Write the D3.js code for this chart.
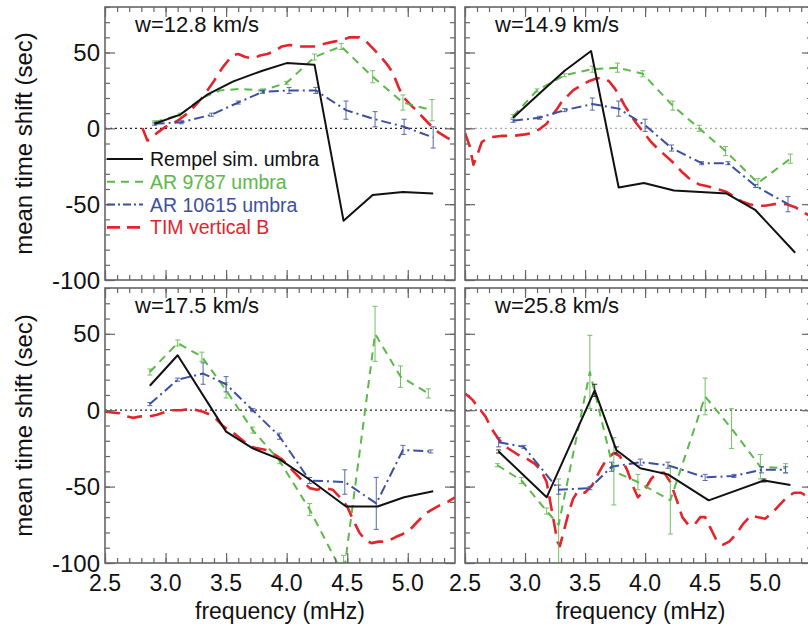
<!DOCTYPE html>
<html>
<head>
<meta charset="utf-8">
<script src="https://cdn.jsdelivr.net/npm/d3@7"></script>
<style>
  body { margin: 0; background: #fff; }
  text { font-family: "Liberation Sans", Arial, Helvetica, sans-serif; }
</style>
</head>
<body>
<div id="chart"></div>
<script>
// panel labels
var panelLabels = ["w=12.8 km/s", "w=14.9 km/s", "w=17.5 km/s", "w=25.8 km/s"];
var seriesNames = ["Rempel sim. umbra", "AR 9787 umbra", "AR 10615 umbra", "TIM vertical B"];
var xTicks = [2.5, 3.0, 3.5, 4.0, 4.5, 5.0];
var yTicks = [-100, -50, 0, 50];

// ---- panel A: w=12.8
var rempelA_f = [2.91, 3.12, 3.34, 3.56, 3.8, 4.0, 4.23, 4.47, 4.71, 4.96, 5.21];
var rempelA_v = [3, 9, 22, 31, 38, 43, 42, -61, -44, -42, -43];
var ar9787A_f = [2.91, 3.12, 3.3, 3.45, 3.62, 3.8, 4.0, 4.23, 4.45, 4.71, 4.96, 5.2];
var ar9787A_v = [4, 9, 20, 25, 26, 25, 30, 47, 54, 34, 17, 12];
var ar9787A_e = [1, 1, 0, 0, 0, 1, 1, 2, 2, 4, 5, 7];
var ar10615A_f = [2.91, 3.13, 3.38, 3.6, 3.8, 4.02, 4.24, 4.49, 4.73, 4.97, 5.21];
var ar10615A_v = [3, 4, 9, 17, 24, 25, 25, 12, 6, 1, -6];
var ar10615A_e = [1, 1, 1, 1, 1, 2, 2, 6, 5, 5, 7];
var timA_f = [2.81, 2.85, 2.88, 2.93, 3.0, 3.1, 3.2, 3.3, 3.39, 3.47, 3.55, 3.6, 3.66, 3.72, 3.78, 3.84, 3.9, 3.96, 4.02, 4.1, 4.18, 4.25, 4.32, 4.38, 4.45, 4.52, 4.6, 4.66, 4.72, 4.78, 4.84, 4.88, 4.93, 4.97, 5.03, 5.08, 5.14, 5.2, 5.26, 5.32, 5.39];
var timA_v = [0, -8, -7, -3, 1, 5, 11, 20, 30, 40, 48, 49, 47, 46, 48, 49, 51, 54, 55, 54, 54, 54, 56, 57, 58, 60, 60, 57, 52, 47, 41, 36, 26, 20, 15, 11, 6, 1, -3, -6, -9];

// ---- panel B: w=14.9
var rempelB_f = [2.9, 3.12, 3.33, 3.55, 3.78, 3.99, 4.24, 4.46, 4.68, 4.92, 5.25];
var rempelB_v = [7, 23, 38, 51, -39, -36, -41, -42, -43, -54, -82];
var ar9787B_f = [2.9, 3.1, 3.33, 3.56, 3.77, 3.98, 4.23, 4.45, 4.67, 4.94, 5.21];
var ar9787B_v = [8, 25, 35, 39, 40, 36, 15, 0, -15, -36, -20];
var ar9787B_e = [1, 1, 1, 2, 3, 2, 3, 2, 3, 3, 3];
var ar10615B_f = [2.9, 3.12, 3.33, 3.56, 3.78, 4.0, 4.22, 4.47, 4.69, 4.92, 5.19];
var ar10615B_v = [5, 7, 12, 16, 13, 2, -13, -23, -23, -38, -50];
var ar10615B_e = [1, 1, 1, 4, 5, 4, 2, 1, 1, 1, 5];
var timB_f = [2.5, 2.54, 2.57, 2.6, 2.64, 2.7, 2.8, 2.9, 3.0, 3.07, 3.13, 3.18, 3.22, 3.26, 3.31, 3.35, 3.4, 3.46, 3.53, 3.6, 3.66, 3.7, 3.75, 3.79, 3.83, 3.87, 3.93, 3.99, 4.05, 4.1, 4.17, 4.24, 4.31, 4.38, 4.45, 4.51, 4.6, 4.68, 4.74, 4.8, 4.87, 4.93, 5.0, 5.07, 5.13, 5.18, 5.25, 5.31, 5.38];
var timB_v = [-3, -12, -24, -18, -9, -6, -5, -5, -4, -3, 0, 3, 8, 12, 18, 21, 25, 28, 31, 33, 33, 31, 26, 21, 15, 10, 3, -3, -9, -13, -18, -23, -29, -34, -37, -38, -40, -42, -45, -48, -50, -51, -51, -50, -50, -50, -52, -55, -58];

// ---- panel C: w=17.5
var rempelC_f = [2.87, 3.1, 3.5, 3.72, 3.94, 4.2, 4.49, 4.75, 4.97, 5.21];
var rempelC_v = [16, 36, -14, -25, -32, -46, -63, -63, -57, -53];
var ar9787C_f = [2.87, 3.1, 3.3, 3.5, 3.72, 3.94, 4.19, 4.47, 4.73, 4.94, 5.17];
var ar9787C_v = [25, 44, 35, 13, -13, -33, -65, -108, 50, 22, 11];
var ar9787C_e = [2, 2, 3, 5, 2, 2, 4, 13, 18, 7, 3];
var ar10615C_f = [2.87, 3.1, 3.31, 3.5, 3.72, 3.94, 4.19, 4.48, 4.74, 4.96, 5.19];
var ar10615C_v = [4, 20, 24, 17, 0, -17, -46, -47, -61, -26, -27];
var ar10615C_e = [1, 1, 7, 5, 1, 2, 2, 8, 17, 3, 1];
var timC_f = [2.5, 2.56, 2.62, 2.68, 2.73, 2.8, 2.87, 2.93, 3.0, 3.06, 3.13, 3.2, 3.26, 3.31, 3.37, 3.42, 3.47, 3.52, 3.58, 3.64, 3.7, 3.77, 3.83, 3.9, 3.96, 4.02, 4.08, 4.14, 4.19, 4.25, 4.32, 4.38, 4.44, 4.5, 4.55, 4.6, 4.65, 4.7, 4.76, 4.83, 4.9, 4.96, 5.02, 5.08, 5.14, 5.2, 5.27, 5.33, 5.39];
var timC_v = [-1, -1.5, -2, -4, -5, -4, -4, -3, -1, 0, 0, 1, 0, -1, -3, -6, -10, -13, -16, -20, -24, -25, -26, -29, -32, -37, -42, -47, -51, -52, -51, -52, -57, -63, -72, -80, -85, -87, -86, -86, -83, -81, -78, -73, -68, -65, -62, -60, -57];

// ---- panel D: w=25.8
var rempelD_f = [2.78, 3.18, 3.58, 3.76, 3.96, 4.19, 4.53, 4.99, 5.21];
var rempelD_v = [-27, -57, 13, -26, -38, -42, -59, -46, -49];
var rempelD_e = [1, 0, 4, 2, 0, 0, 0, 1, 0];
var ar9787D_f = [2.77, 2.97, 3.18, 3.28, 3.54, 3.74, 3.94, 4.21, 4.5, 4.72, 4.96, 5.17];
var ar9787D_v = [-36, -46, -66, -75, 25, -40, -47, -59, 9, -12, -37, -38];
var ar9787D_e = [1, 2, 2, 30, 24, 22, 5, 22, 12, 13, 8, 3];
var ar10615D_f = [2.78, 2.99, 3.28, 3.54, 3.72, 3.96, 4.19, 4.5, 4.74, 4.97, 5.17];
var ar10615D_v = [-21, -24, -52, -51, -37, -34, -36, -44, -43, -39, -39];
var ar10615D_e = [3, 1, 3, 1, 3, 2, 2, 2, 1, 2, 2];
var timD_f = [2.5, 2.56, 2.62, 2.67, 2.72, 2.78, 2.84, 2.9, 2.96, 3.02, 3.08, 3.13, 3.18, 3.21, 3.24, 3.27, 3.29, 3.32, 3.36, 3.4, 3.44, 3.5, 3.56, 3.62, 3.68, 3.74, 3.79, 3.85, 3.9, 3.94, 3.99, 4.05, 4.1, 4.16, 4.21, 4.26, 4.31, 4.36, 4.41, 4.46, 4.5, 4.55, 4.6, 4.65, 4.7, 4.76, 4.82, 4.88, 4.94, 5.0, 5.06, 5.12, 5.18, 5.24, 5.3, 5.36];
var timD_v = [11, 7, 1, -4, -12, -19, -24, -27, -30, -32, -35, -39, -47, -60, -73, -86, -89, -80, -68, -58, -53, -54, -49, -40, -32, -28, -30, -39, -50, -57, -53, -45, -41, -41, -47, -58, -70, -75, -75, -70, -70, -78, -86, -88, -86, -81, -74, -69, -70, -71, -67, -62, -57, -54, -54, -57];

var colors = ["#111111", "#5cb848", "#3c4fa0", "#e5232b"];
var dashes = [null, "8,6", "10,4,2,4", "15,8"];
var widths = [2, 2, 2, 2.6];

function pts(f, v, e) {
  return f.map(function(d, i) { return { f: d, v: v[i], e: e ? e[i] : 0 }; });
}

var panels = [
  { x: 105, y: 7, w: 350, h: 273, label: panelLabels[0], left: true, bottom: false, zero: "#222",
    series: [pts(rempelA_f, rempelA_v), pts(ar9787A_f, ar9787A_v, ar9787A_e), pts(ar10615A_f, ar10615A_v, ar10615A_e), pts(timA_f, timA_v)] },
  { x: 465, y: 7, w: 347, h: 273, label: panelLabels[1], left: false, bottom: false, zero: "#aaa",
    series: [pts(rempelB_f, rempelB_v), pts(ar9787B_f, ar9787B_v, ar9787B_e), pts(ar10615B_f, ar10615B_v, ar10615B_e), pts(timB_f, timB_v)] },
  { x: 105, y: 288, w: 350, h: 275, label: panelLabels[2], left: true, bottom: true, zero: "#222",
    series: [pts(rempelC_f, rempelC_v), pts(ar9787C_f, ar9787C_v, ar9787C_e), pts(ar10615C_f, ar10615C_v, ar10615C_e), pts(timC_f, timC_v)] },
  { x: 465, y: 288, w: 347, h: 275, label: panelLabels[3], left: false, bottom: true, zero: "#333",
    series: [pts(rempelD_f, rempelD_v, rempelD_e), pts(ar9787D_f, ar9787D_v, ar9787D_e), pts(ar10615D_f, ar10615D_v, ar10615D_e), pts(timD_f, timD_v)] }
];

var svg = d3.select("#chart").append("svg")
  .attr("width", 808)
  .attr("height", 630);

var defs = svg.append("defs");

panels.forEach(function(p, pi) {
  var x = d3.scaleLinear().domain([2.5, 5.39]).range([0, p.w]);
  var y = d3.scaleLinear().domain([-100, 80]).range([p.h, 0]);

  var g = svg.append("g").attr("transform", `translate(${p.x}, ${p.y})`);

  defs.append("clipPath").attr("id", "clip" + pi)
    .append("rect").attr("width", p.w).attr("height", p.h);

  // zero line
  g.append("line")
    .attr("x1", 0).attr("x2", p.w)
    .attr("y1", y(0)).attr("y2", y(0))
    .attr("stroke", p.zero).attr("stroke-width", 1.3)
    .attr("stroke-dasharray", "2,3");

  var plot = g.append("g").attr("clip-path", `url(#clip${pi})`);
  var line = d3.line().x(d => x(d.f)).y(d => y(d.v));

  // draw TIM first so the others sit on top
  [3, 1, 2, 0].forEach(function(si) {
    var data = p.series[si];
    plot.append("path")
      .datum(data)
      .attr("d", line)
      .attr("fill", "none")
      .attr("stroke", colors[si])
      .attr("stroke-width", widths[si])
      .attr("stroke-dasharray", dashes[si])
      .attr("stroke-linejoin", "round");

    // error bars
    var eb = plot.selectAll(null).data(data.filter(d => d.e > 0)).enter()
      .append("g").attr("stroke", colors[si]).attr("stroke-width", 1).attr("opacity", 0.85);
    eb.append("line")
      .attr("x1", d => x(d.f)).attr("x2", d => x(d.f))
      .attr("y1", d => y(d.v - d.e)).attr("y2", d => y(d.v + d.e));
    eb.append("line")
      .attr("x1", d => x(d.f) - 2.5).attr("x2", d => x(d.f) + 2.5)
      .attr("y1", d => y(d.v - d.e)).attr("y2", d => y(d.v - d.e));
    eb.append("line")
      .attr("x1", d => x(d.f) - 2.5).attr("x2", d => x(d.f) + 2.5)
      .attr("y1", d => y(d.v + d.e)).attr("y2", d => y(d.v + d.e));
  });

  // axes: ticks on all four sides, pointing inward
  var xMinor = d3.range(25, 54).map(d => d / 10);
  var yMinor = d3.range(-100, 81, 10);

  var axColor = "#666";
  g.append("g").attr("transform", `translate(0, ${p.h})`)
    .call(d3.axisTop(x).tickValues(xMinor).tickSize(5).tickFormat(""));
  g.append("g").call(d3.axisBottom(x).tickValues(xMinor).tickSize(5).tickFormat(""));
  g.append("g").call(d3.axisRight(y).tickValues(yMinor).tickSize(5).tickFormat(""));
  g.append("g").attr("transform", `translate(${p.w}, 0)`)
    .call(d3.axisLeft(y).tickValues(yMinor).tickSize(5).tickFormat(""));
  // major ticks
  g.append("g").attr("transform", `translate(0, ${p.h})`)
    .call(d3.axisTop(x).tickValues(xTicks).tickSize(10).tickFormat(""));
  g.append("g").call(d3.axisBottom(x).tickValues(xTicks).tickSize(10).tickFormat(""));
  g.append("g").call(d3.axisRight(y).tickValues(yTicks).tickSize(10).tickFormat(""));
  g.append("g").attr("transform", `translate(${p.w}, 0)`)
    .call(d3.axisLeft(y).tickValues(yTicks).tickSize(10).tickFormat(""));

  g.selectAll(".domain").remove();
  g.selectAll(".tick line").attr("stroke", axColor).attr("stroke-width", 1.2);

  g.append("rect")
    .attr("width", p.w).attr("height", p.h)
    .attr("fill", "none").attr("stroke", axColor).attr("stroke-width", 1.6);

  // tick labels
  if (p.left) {
    g.selectAll(null).data(yTicks).enter().append("text")
      .attr("x", -5).attr("y", d => y(d)).attr("dy", "0.36em")
      .attr("text-anchor", "end").attr("font-size", "24px").attr("fill", "#111")
      .text(d => d);
    g.append("text")
      .attr("transform", `translate(-73, ${p.h / 2}) rotate(-90)`)
      .attr("text-anchor", "middle").attr("font-size", "24px").attr("fill", "#111")
      .text("mean time shift (sec)");
  }
  if (p.bottom) {
    g.selectAll(null).data(xTicks).enter().append("text")
      .attr("x", d => x(d)).attr("y", p.h + 28)
      .attr("text-anchor", "middle").attr("font-size", "23px").attr("fill", "#111")
      .text(d => d.toFixed(1));
    g.append("text")
      .attr("x", p.w / 2 + (p.left ? 0 : 2)).attr("y", p.h + 56)
      .attr("text-anchor", "middle").attr("font-size", "23px").attr("fill", "#111")
      .text("frequency (mHz)");
  }

  g.append("text")
    .attr("x", 30).attr("y", 25)
    .attr("font-size", "22px").attr("fill", "#111")
    .text(p.label);

  // legend only in first panel
  if (pi === 0) {
    var leg = g.selectAll(null).data(seriesNames).enter().append("g")
      .attr("transform", (d, i) => `translate(0, ${152 + i * 22.8})`);
    leg.append("line")
      .attr("x1", 2).attr("x2", 38)
      .attr("stroke", (d, i) => colors[i])
      .attr("stroke-width", (d, i) => widths[i])
      .attr("stroke-dasharray", (d, i) => dashes[i] === "15,8" ? "13,7" : (dashes[i] === "10,4,2,4" ? "8,3,2,3" : dashes[i]));
    leg.append("text")
      .attr("x", 45).attr("dy", "0.36em")
      .attr("font-size", "19.5px")
      .attr("fill", (d, i) => i === 0 ? "#111" : colors[i])
      .text(d => d);
  }
});
</script>
</body>
</html>
